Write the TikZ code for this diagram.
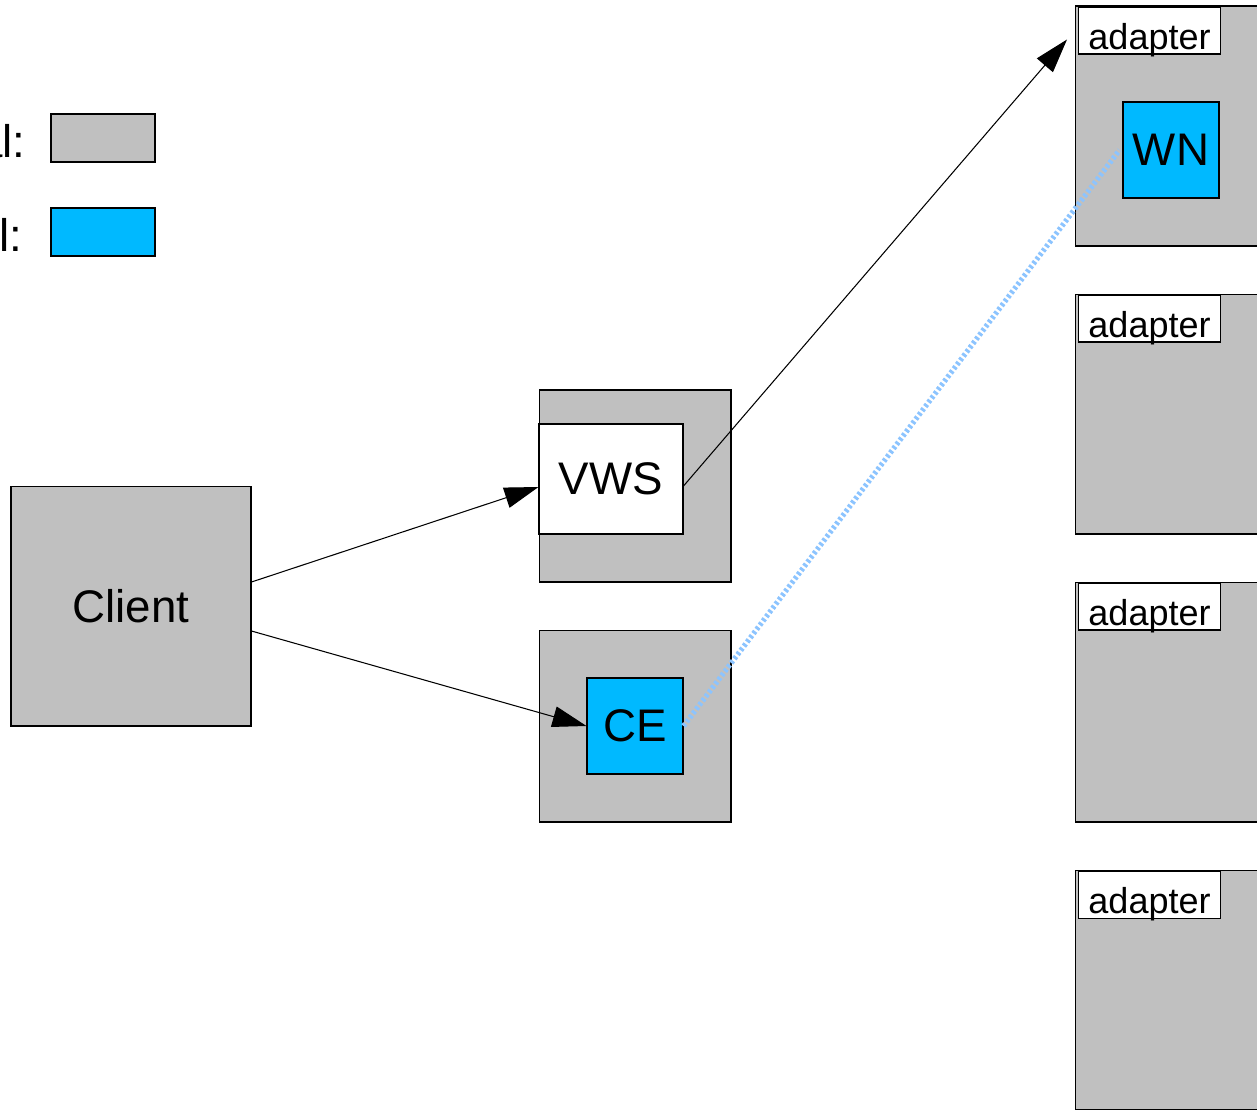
\documentclass[tikz,border=0pt]{standalone}
\usepackage{xcolor}
\usepackage{fontspec}
\setmainfont{Liberation Sans}
\usepackage{tikz}
\usetikzlibrary{arrows.meta, calc}

\definecolor{boxgray}{RGB}{192,192,192}
\definecolor{virtblue}{RGB}{0,185,255}
\definecolor{linkblue}{RGB}{140,196,255}

\begin{document}
\begin{tikzpicture}[
        x=0.02cm, y=-0.02cm,
        phys/.style={rectangle, draw, line width=0.6pt, fill=boxgray, inner sep=0pt},
        virt/.style={rectangle, draw, line width=0.6pt, fill=virtblue, inner sep=0pt, minimum width=1.92cm, minimum height=1.92cm, font=\fontsize{26}{30}\selectfont},
        host/.style={phys, minimum width=3.84cm, minimum height=3.84cm},
        worker/.style={phys, minimum width=4.8cm, minimum height=4.8cm},
        tag/.style={rectangle, draw, line width=0.6pt, fill=white, inner sep=0pt, minimum width=2.84cm, text height=0.84cm, text depth=0.1cm, font=\fontsize{20.5}{24}\selectfont},
        big/.style={font=\fontsize{26}{30}\selectfont},
        arrow/.style={line width=0.6pt, -{Triangle[length=0.68cm, width=0.42cm]}},
        link/.style={linkblue, line width=3pt, dash pattern=on 1.6pt off 1.4pt}
        ]

        \clip (0,0) rectangle (1257,1109);

        % Legend
        \node (physkey) [phys, minimum width=2.08cm, minimum height=0.96cm] at (103,138) {};
        \node (virtkey) [virt, minimum width=2.08cm, minimum height=0.96cm] at (103,232) {};
        \node (physlbl) [big, anchor=base east, inner sep=0pt] at (26,157) {al:};
        \node (virtlbl) [big, anchor=base east, inner sep=0pt] at (23,251) {l:};

        % Client
        \node (client) [phys, big, minimum width=4.8cm, minimum height=4.8cm] at (131,606) {Client};

        % Middle hosts
        \node (vwshost) [host] at (635,486) {};
        \node (vws) [rectangle, draw, line width=0.6pt, fill=white, big, minimum width=2.88cm, minimum height=2.2cm] at (611,479) {VWS};
        \node (cehost) [host] at (635,726) {};
        \node (ce) [virt] at (635,726) {CE};

        % Worker machines with adapters
        \foreach \i/\y in {1/126, 2/414, 3/702, 4/990} {
            \node (ad\i) [worker, anchor=west] at (1075,\y) {};
            \node (tag\i) [tag, anchor=north west] at ($(ad\i.north west)+(3,1)$) {adapter};
        }
        \node (wn) [virt] at (1171,150) {WN};

        % Connections
        \draw [arrow] ($(client.east)+(0,-24)$) -- ($(vws.west)+(0,8)$);
        \draw [arrow] ($(client.east)+(0,25)$) -- (ce.west);
        \draw [arrow] ($(vws.east)+(0,7)$) -- ($(ad1.north west)+(-8,34)$);
        \draw [link] (ce.east) -- ($(wn.west)+(-3,0)$);

    \end{tikzpicture}
\end{document}
